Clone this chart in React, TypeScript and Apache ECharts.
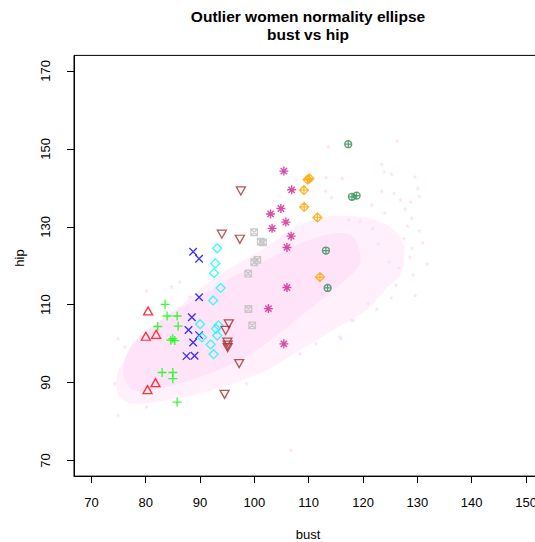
import React, { useEffect, useRef } from "react";
import * as echarts from "echarts";

const titleLines = ["Outlier women normality ellipse", "bust vs hip"];
const xName = "bust";
const yName = "hip";
const xTicks = [70, 80, 90, 100, 110, 120, 130, 140, 150];
const yTicks = [70, 90, 110, 130, 150, 170];

// population cloud: loose outline and dense core (data units)
const cloudOuter = [
  [74.62, 91.47], [76.46, 96.61], [80.76, 103.47], [86.89, 110.33], [93.04, 117.16],
  [102.25, 124.87], [108.38, 130.5], [114.46, 132.8], [120.5, 132.3], [125.5, 129.5],
  [127.5, 125.0], [127.0, 118.0], [124.5, 114.5], [120.66, 108.61], [114.51, 103.47],
  [108.38, 98.33], [102.25, 93.2], [96.1, 89.78], [89.96, 87.21], [83.83, 85.49],
  [77.68, 84.64], [75.23, 86.34],
];
const cloudInner = [
  [77.68, 100.05], [83.83, 106.89], [89.96, 112.02], [96.1, 117.16], [102.25, 121.45],
  [108.38, 125.74], [114.51, 128.31], [118.2, 127.44], [119.43, 120.6], [114.51, 113.75],
  [108.38, 106.89], [102.25, 100.05], [96.1, 94.92], [89.96, 91.47], [83.83, 88.9],
  [77.68, 88.06], [75.84, 93.2],
];
const cloudFringe = [
  [113.59, 150.56], [126.3, 152.02], [123.43, 146.11], [123.9, 144.13], [125.27, 143.54],
  [129.56, 142.85], [113.17, 142.69], [116.17, 142.44], [130.06, 139.87], [113.11, 139.18],
  [123.43, 139.18], [125.69, 138.66], [128.77, 136.43], [130.35, 137.89], [114.22, 137.56],
  [121.58, 135.58], [127.77, 134.55], [128.95, 132.24], [130.35, 128.98], [128.64, 122.3],
  [129.24, 117.6], [126.06, 115.03], [122.5, 108.86], [120.96, 110.33], [117.9, 106.04],
  [115.93, 101.34], [111.33, 100.05], [106.72, 72.7], [74.92, 81.64], [74.31, 89.78],
  [76.15, 99.18], [84.75, 114.59], [86.28, 115.88], [88.12, 112.02], [80.15, 83.77],
  [85.67, 84.64], [94.88, 86.34], [98.56, 89.78], [108.38, 97.48], [115.75, 101.75],
  [118.2, 106.04], [74.92, 101.34], [80.15, 113.57],
  [127.5, 127.0], [129.0, 124.5], [124.8, 121.0], [126.6, 119.5], [122.8, 125.6],
  [131.0, 126.0], [129.6, 112.4], [125.2, 111.8], [119.5, 131.5], [121.8, 129.6],
  [117.4, 131.8], [131.8, 120.5], [128.2, 130.2], [124.0, 133.6], [126.9, 136.9],
];

const redTriangles = [[80.44, 108.4], [80.02, 101.9], [81.92, 102.4], [81.8, 90.0], [80.33, 88.2]];
const greenPlus = [
  [83.57, 110.1], [83.94, 107.1], [85.78, 107.1], [82.21, 104.4], [85.97, 104.5],
  [84.62, 100.9], [84.99, 101.3], [85.36, 100.8], [83.02, 92.6], [84.99, 92.6],
  [84.99, 91.0], [85.78, 85.0],
];
const blueCross = [
  [88.73, 123.6], [89.83, 121.8], [89.83, 111.9], [88.49, 106.8], [87.88, 103.5],
  [89.83, 102.2], [88.73, 100.3], [87.51, 96.8], [88.99, 96.9],
];
const cyanDiamond = [
  [93.15, 124.5], [92.82, 120.6], [92.58, 118.1], [93.79, 114.3], [92.41, 111.1],
  [90.0, 105.0], [93.37, 104.7], [92.96, 103.8], [93.15, 102.1], [90.37, 101.6],
  [91.95, 99.8], [92.5, 97.3],
];
const brownDown = [
  [97.51, 139.2], [94.01, 128.1], [97.33, 126.8], [95.3, 105.1], [94.71, 103.4],
  [95.03, 100.4], [95.08, 99.6], [95.08, 99.0], [97.2, 94.9], [94.51, 87.0],
];
const grayBoxX = [
  [99.96, 128.6], [101.16, 126.2], [101.6, 126.0], [99.96, 120.9], [100.55, 121.5],
  [98.86, 118.0], [98.9, 108.9], [99.59, 104.7],
];
const pinkAsterisk = [
  [105.43, 144.3], [106.87, 139.5], [104.88, 134.7], [102.98, 133.3], [105.8, 131.2],
  [103.26, 129.6], [106.76, 127.6], [105.99, 124.7], [105.99, 114.4], [102.58, 109.0],
  [105.43, 99.95],
];
const orangeDiamondPlus = [
  [109.8, 142.1], [110.13, 142.4], [109.12, 139.4], [109.17, 135.1], [111.6, 132.4], [112.06, 117.1],
];
const greenCirclePlus = [
  [117.27, 151.2], [117.96, 137.7], [118.82, 138.0], [113.17, 123.9], [113.48, 114.3],
];

const SYM = {
  up: "path://M5,0L10,8.66L0,8.66Z",
  down: "path://M0,0L10,0L5,8.66Z",
  plus: "path://M5,0L5,10M0,5L10,5",
  cross: "path://M0,0L10,10M10,0L0,10",
  diamond: "path://M5,0L10,5L5,10L0,5Z",
  boxX: "path://M0,0L10,0L10,10L0,10ZM0,0L10,10M10,0L0,10",
  asterisk: "path://M5,0L5,10M0,5L10,5M1.5,1.5L8.5,8.5M8.5,1.5L1.5,8.5",
  diamondPlus: "path://M5,0L10,5L5,10L0,5ZM5,0L5,10M0,5L10,5",
  circlePlus: "path://M10,5A5,5,0,1,1,0,5A5,5,0,1,1,10,5ZM5,0L5,10M0,5L10,5",
  star: "path://M5,0L6.2,3.6L10,3.6L6.9,5.9L8.1,9.5L5,7.3L1.9,9.5L3.1,5.9L0,3.6L3.8,3.6Z",
};

const FONT = "Liberation Sans, Arial, Helvetica, sans-serif";

function markerSeries(data: number[][], symbol: string, size: any, color: string, width = 1.3) {
  return {
    type: "scatter",
    data,
    symbol,
    symbolSize: size,
    silent: true,
    z: 5,
    itemStyle: { color: "rgba(0,0,0,0)", borderColor: color, borderWidth: width },
  };
}

export default function App() {
  const ref = useRef<HTMLDivElement>(null);
  useEffect(() => {
    const chart = echarts.init(ref.current!, null, { renderer: "svg" });
    chart.setOption({
      animation: false,
      backgroundColor: "#fff",
      grid: {
        left: 74,
        top: 55.4,
        right: -8.4,
        bottom: 65.9,
        show: true,
        borderColor: "#000",
        borderWidth: 1,
        containLabel: false,
        outerBoundsMode: "none",
      },
      xAxis: {
        type: "value",
        min: 66.8,
        max: 153.2,
        splitLine: { show: false },
        axisLine: { show: true, lineStyle: { color: "#000", width: 1 } },
        axisTick: { show: true, inside: false, length: 7, customValues: xTicks, lineStyle: { color: "#000", width: 1 } },
        axisLabel: { customValues: xTicks, margin: 20, color: "#000", fontSize: 13, fontFamily: FONT },
      },
      yAxis: {
        type: "value",
        min: 66,
        max: 174,
        splitLine: { show: false },
        axisLine: { show: true, lineStyle: { color: "#000", width: 1 } },
        axisTick: { show: true, inside: false, length: 7, customValues: yTicks, lineStyle: { color: "#000", width: 1 } },
        axisLabel: { customValues: yTicks, rotate: 90, margin: 22, color: "#000", fontSize: 13, fontFamily: FONT },
      },
      graphic: [
        { type: "text", x: 308, y: 16, style: { text: titleLines[0], font: `bold 15.5px ${FONT}`, fill: "#000", textAlign: "center", textVerticalAlign: "middle" } },
        { type: "text", x: 308, y: 34, style: { text: titleLines[1], font: `bold 15.5px ${FONT}`, fill: "#000", textAlign: "center", textVerticalAlign: "middle" } },
        { type: "text", x: 308, y: 534, style: { text: xName, font: `13px ${FONT}`, fill: "#000", textAlign: "center", textVerticalAlign: "middle" } },
        { type: "text", x: 19, y: 258, rotation: Math.PI / 2, style: { text: yName, font: `13px ${FONT}`, fill: "#000", textAlign: "center", textVerticalAlign: "middle" } },
      ],
      series: [
        {
          type: "custom",
          coordinateSystem: "cartesian2d",
          data: [[100, 110]],
          clip: true,
          silent: true,
          z: 1,
          renderItem: (_params: any, api: any) => ({
            type: "group",
            children: [
              {
                type: "polygon",
                shape: { points: cloudOuter.map((p) => api.coord(p)), smooth: 0.3 },
                style: { fill: "#fff0fc" },
              },
              {
                type: "polygon",
                shape: { points: cloudInner.map((p) => api.coord(p)), smooth: 0.3 },
                style: { fill: "#fee3f9" },
              },
            ],
          }),
        },
        {
          type: "scatter",
          data: cloudFringe,
          symbol: SYM.star,
          symbolSize: 5,
          silent: true,
          z: 2,
          itemStyle: { color: "#fcdaf6" },
        },
        markerSeries(redTriangles, SYM.up, [9, 8], "#ff0000"),
        markerSeries(greenPlus, SYM.plus, 9, "#00ff00"),
        markerSeries(blueCross, SYM.cross, 7.5, "#0000ff"),
        markerSeries(cyanDiamond, SYM.diamond, 9, "#00ffff"),
        markerSeries(brownDown, SYM.down, [9, 8], "#a52a2a"),
        markerSeries(grayBoxX, SYM.boxX, 6.5, "#bebebe"),
        markerSeries(pinkAsterisk, SYM.asterisk, 9, "#d02090", 1.4),
        markerSeries(orangeDiamondPlus, SYM.diamondPlus, 9, "#ffa500"),
        markerSeries(greenCirclePlus, SYM.circlePlus, 7, "#2e8b57"),
      ],
    });
    return () => chart.dispose();
  }, []);
  return <div ref={ref} style={{ position: "fixed", left: 0, top: 0, width: 535, height: 542 }} />;
}
